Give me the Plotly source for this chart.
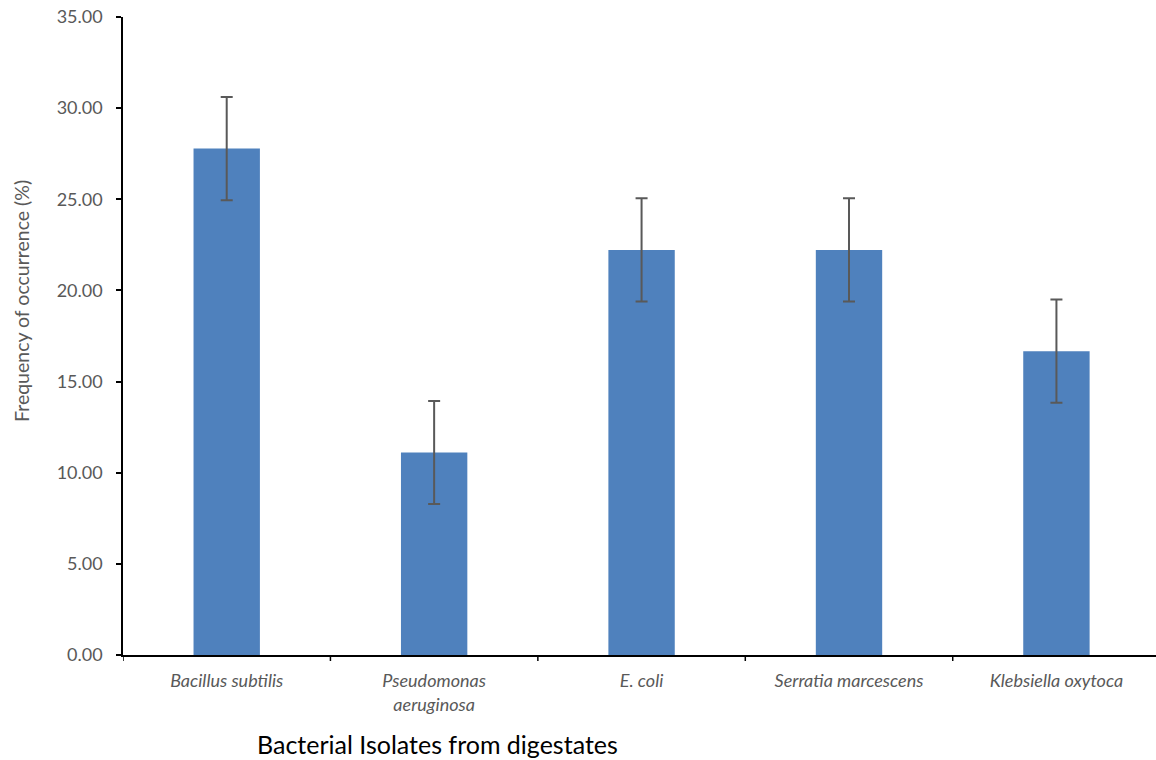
import plotly.graph_objects as go

categories = ["<i>Bacillus subtilis</i>", "<i>Pseudomonas<br>aeruginosa</i>", "<i>E. coli</i>",
              "<i>Serratia marcescens</i>", "<i>Klebsiella oxytoca</i>"]
values = [27.78, 11.11, 22.22, 22.22, 16.67]
errors = [2.83, 2.83, 2.83, 2.83, 2.83]
y_ticks = [0, 5, 10, 15, 20, 25, 30, 35]

font = "Lato, Carlito, 'Open Sans', sans-serif"

W = 1156 - 123
H = 760 - 17 - 105

fig = go.Figure()
fig.add_trace(go.Bar(
    x=list(range(len(categories))), y=values,
    marker=dict(color="#4F81BD", line=dict(width=0)),
    width=0.32,
    error_y=dict(type="data", array=errors, visible=True, color="#595959", thickness=2, width=6),
))

fig.update_layout(
    width=1156, height=760,
    margin=dict(l=123, r=0, t=17, b=105, autoexpand=False),
    paper_bgcolor="white", plot_bgcolor="white",
    showlegend=False,
    font=dict(family=font, color="#595959", size=18),
    xaxis=dict(
        tickmode="array", tickvals=list(range(len(categories))), ticktext=categories,
        range=[-0.5, 4.48], showline=True, linecolor="#000000", linewidth=1.5,
        ticks="", showgrid=False, zeroline=False, automargin=False,
        tickfont=dict(size=18, color="#595959"), ticklabelstandoff=9,
    ),
    yaxis=dict(
        range=[0, 35], tickvals=y_ticks, ticktext=[f"{v:.2f}" for v in y_ticks],
        showline=True, linecolor="#000000", linewidth=1.5,
        ticks="outside", ticklen=5, tickcolor="#000000", tickwidth=1.5,
        showgrid=False, zeroline=False, ticklabelstandoff=10, automargin=False,
        tickfont=dict(size=18, color="#595959"),
    ),
    annotations=[
        dict(text="Bacterial Isolates from digestates", xref="paper", yref="paper",
             x=(437 - 123) / W, y=(655 - 744) / H, xanchor="center", yanchor="middle",
             showarrow=False, font=dict(size=25, color="#000000", family=font)),
        dict(text="Frequency of occurrence (%)", textangle=-90, xref="paper", yref="paper",
             x=(21 - 123) / W, y=(655 - 301) / H, xanchor="center", yanchor="middle",
             showarrow=False, font=dict(size=19.5, color="#595959", family=font)),
    ],
)

# category boundary ticks on x axis
for b in [-0.5, 0.5, 1.5, 2.5, 3.5]:
    fig.add_shape(type="line", xref="x", yref="paper", x0=b, x1=b, y0=0, y1=-6 / H,
                  line=dict(color="#000000", width=1.5))

fig.write_html("out.html", config={"displayModeBar": False},
               post_script="document.body.style.margin='0px';document.body.style.overflow='hidden';")
